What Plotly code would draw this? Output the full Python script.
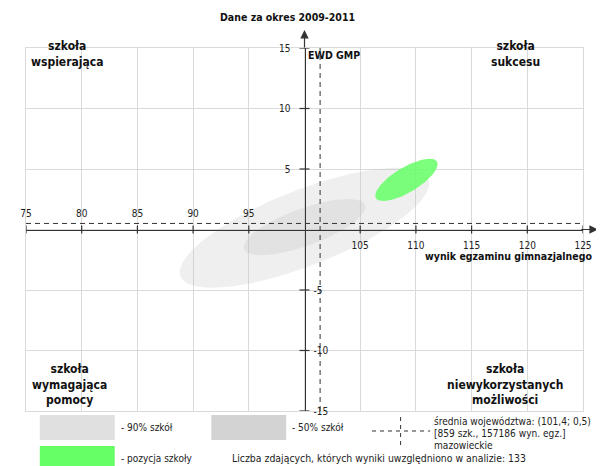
import numpy as np
import plotly.graph_objects as go

# ---------------- data ----------------
title_text = "Dane za okres 2009-2011"
x_title = "wynik egzaminu gimnazjalnego"
y_title = "EWD GMP"

x_range = [75, 125]
y_range = [-15, 15]
x_grid = [75, 80, 85, 90, 95, 100, 105, 110, 115, 120, 125]
y_grid = [-15, -10, -5, 0, 5, 10, 15]
x_ticks_left = [75, 80, 85, 90, 95]
x_ticks_right = [105, 110, 115, 120, 125]
y_ticks_up = [5, 10, 15]
y_ticks_down = [-5, -10, -15]

avg_x = 101.4
avg_y = 0.5

# ellipses: centre, half-width (x), half-height (y), correlation
ellipse_names = ["90% szkół", "50% szkół", "pozycja szkoły"]
ellipse_cx = [100.0, 100.0, 109.15]
ellipse_cy = [0.15, 0.2, 4.1]
ellipse_halfwidth = [11.2, 5.46, 2.8]
ellipse_halfheight = [4.96, 2.32, 1.75]
ellipse_corr = [0.74, 0.71, 0.74]
ellipse_colors = ["rgba(190,190,190,0.25)", "rgba(190,190,190,0.26)", "rgba(102,255,102,0.86)"]

corner_texts = ["szkoła<br>wspierająca", "szkoła<br>sukcesu",
                "szkoła<br>wymagająca<br>pomocy", "szkoła<br>niewykorzystanych<br>możliwości"]

legend_90 = "- 90% szkół"
legend_50 = "- 50% szkół"
legend_school = "- pozycja szkoły"
legend_avg_lines = ["średnia województwa: (101,4; 0,5)",
                    "[859 szk., 157186 wyn. egz.]",
                    "mazowieckie"]
count_text = "Liczba zdających, których wyniki uwzględniono w analizie: 133"

# ---------------- layout helpers ----------------
OFF = 8                      # page body margin in the browser
PAGE_W, PAGE_H = 604, 466
W_PX, H_PX = PAGE_W - OFF, PAGE_H - OFF
# plot area in page pixels: x 22..587, y 48..411
ML, MR = 22 - OFF, W_PX - (587 - OFF)
MT, MB = 48 - OFF, H_PX - (411 - OFF)
PW = W_PX - ML - MR
PH = H_PX - MT - MB


def px(xp):
    """page x pixel -> paper"""
    return (xp - OFF - ML) / PW


def py(yp):
    """page y pixel -> paper"""
    return (H_PX - MB - (yp - OFF)) / PH


FONT = "DejaVu Sans Condensed, DejaVu Sans, sans-serif"
DARK = "#333333"
GRID = "#dadada"

fig = go.Figure()

# ellipses
t = np.linspace(0, 2 * np.pi, 181)
for name, cx, cy, hw, hh, r, col in zip(ellipse_names, ellipse_cx, ellipse_cy,
                                          ellipse_halfwidth, ellipse_halfheight,
                                          ellipse_corr, ellipse_colors):
    ex = cx + hw * np.cos(t)
    ey = cy + hh * (r * np.cos(t) + np.sqrt(1 - r * r) * np.sin(t))
    fig.add_trace(go.Scatter(x=ex, y=ey, mode="lines", fill="toself",
                             fillcolor=col, line=dict(width=0),
                             name=name, showlegend=False, hoverinfo="skip"))

# dummy traces so overlay axes are drawn
for xa, ya in [("x2", "y"), ("x3", "y"), ("x", "y2"), ("x", "y3")]:
    fig.add_trace(go.Scatter(x=[None], y=[None], xaxis=xa, yaxis=ya,
                             showlegend=False, hoverinfo="skip"))

tickfont = dict(family=FONT, size=10, color="#222")

fig.update_layout(
    width=W_PX, height=H_PX,
    margin=dict(l=ML, r=MR, t=MT, b=MB, pad=0),
    paper_bgcolor="white", plot_bgcolor="white",
    showlegend=False,
    xaxis=dict(range=x_range, tickvals=x_grid, showticklabels=False, ticks="",
               showgrid=True, gridcolor=GRID, gridwidth=1, zeroline=False,
               showline=True, mirror=True, linecolor=GRID, linewidth=1,
               fixedrange=True),
    yaxis=dict(range=y_range, tickvals=y_grid, showticklabels=False, ticks="",
               showgrid=True, gridcolor=GRID, gridwidth=1, zeroline=False,
               showline=True, mirror=True, linecolor=GRID, linewidth=1,
               fixedrange=True),
    xaxis2=dict(range=x_range, overlaying="x", anchor="free", position=0.5,
                side="top", tickvals=x_ticks_left,
                ticktext=[str(v) for v in x_ticks_left], ticks="",
                ticklabelstandoff=8, tickfont=tickfont,
                showgrid=False, zeroline=False, showline=True,
                linecolor=DARK, linewidth=1.2),
    xaxis3=dict(range=x_range, overlaying="x", anchor="free", position=0.5,
                side="bottom", tickvals=x_ticks_right,
                ticktext=[str(v) for v in x_ticks_right], ticks="",
                ticklabelstandoff=8, tickfont=tickfont,
                showgrid=False, zeroline=False, showline=False),
    yaxis2=dict(range=y_range, overlaying="y", anchor="free", position=0.5,
                side="left", tickvals=y_ticks_up,
                ticktext=[str(v) for v in y_ticks_up], ticks="",
                ticklabelstandoff=12, tickfont=tickfont,
                showgrid=False, zeroline=False, showline=True,
                linecolor=DARK, linewidth=1.2),
    yaxis3=dict(range=y_range, overlaying="y", anchor="free", position=0.5,
                side="right", tickvals=y_ticks_down,
                ticktext=[str(v) for v in y_ticks_down], ticks="",
                ticklabelstandoff=8, tickfont=tickfont,
                showgrid=False, zeroline=False, showline=False),
)

shapes = []
# crossing tick marks
for v in x_ticks_left + x_ticks_right:
    shapes.append(dict(type="line", xref="x", yref="y", x0=v, x1=v,
                       ysizemode="pixel", yanchor=0, y0=-4, y1=4,
                       line=dict(color=DARK, width=1.2)))
for v in y_ticks_up + y_ticks_down:
    shapes.append(dict(type="line", xref="x", yref="y", y0=v, y1=v,
                       xsizemode="pixel", xanchor=100, x0=-5, x1=5,
                       line=dict(color=DARK, width=1.2)))
# average dashed lines
shapes.append(dict(type="line", xref="x", yref="y", x0=x_range[0], x1=x_range[1],
                   y0=avg_y, y1=avg_y, layer="above",
                   line=dict(color=DARK, width=1, dash="5px,4px")))
shapes.append(dict(type="line", xref="x", yref="y", x0=avg_x, x1=avg_x,
                   y0=y_range[0], y1=y_range[1], layer="above",
                   line=dict(color=DARK, width=1, dash="5px,4px")))
# legend boxes
shapes.append(dict(type="rect", xref="paper", yref="paper", x0=px(36), x1=px(112),
                   y0=py(440), y1=py(415), fillcolor="#e0e0e0", line=dict(width=0)))
shapes.append(dict(type="rect", xref="paper", yref="paper", x0=px(210), x1=px(286),
                   y0=py(440), y1=py(415), fillcolor="#d3d3d3", line=dict(width=0)))
shapes.append(dict(type="rect", xref="paper", yref="paper", x0=px(36), x1=px(112),
                   y0=py(470), y1=py(446), fillcolor="#66ff66", line=dict(width=0)))
shapes.append(dict(type="line", xref="paper", yref="paper", x0=px(373), x1=px(432),
                   y0=py(431), y1=py(431), line=dict(color=DARK, width=1, dash="4px,4px")))
shapes.append(dict(type="line", xref="paper", yref="paper", x0=px(402), x1=px(402),
                   y0=py(417), y1=py(445), line=dict(color=DARK, width=1, dash="4px,4px")))
fig.update_layout(shapes=shapes)

ann = []
# axis arrows
ann.append(dict(xref="paper", yref="y", x=px(602), y=0, ax=-18, ay=0, text="",
                showarrow=True, arrowhead=2, arrowsize=1.4, arrowwidth=1.2,
                arrowcolor=DARK))
ann.append(dict(xref="x", yref="paper", x=100, y=py(30), ax=0, ay=19, text="",
                showarrow=True, arrowhead=2, arrowsize=1.4, arrowwidth=1.2,
                arrowcolor=DARK))

bold = dict(family=FONT, size=10.5, color="#111", weight="bold")
ann.append(dict(xref="paper", yref="paper", x=px(287), y=py(17), text=title_text,
                showarrow=False, font=bold, xanchor="center", yanchor="middle"))
ann.append(dict(xref="paper", yref="paper", x=px(306), y=py(55), text=y_title,
                showarrow=False, font=bold, xanchor="left", yanchor="middle"))
ann.append(dict(xref="paper", yref="paper", x=px(598), y=py(256), text=x_title,
                showarrow=False, font=bold, xanchor="right", yanchor="middle"))

corner_font = dict(family=FONT, size=12, color="#111", weight="bold")
corner_pos = [(64, 54), (519, 54), (66, 384), (508, 384)]
for txt, (cxp, cyp) in zip(corner_texts, corner_pos):
    ann.append(dict(xref="paper", yref="paper", x=px(cxp), y=py(cyp), text=txt,
                    showarrow=False, font=corner_font, xanchor="center",
                    yanchor="middle", align="center"))

legfont = dict(family=FONT, size=10, color="#222")
ann.append(dict(xref="paper", yref="paper", x=px(116), y=py(428), text=legend_90,
                showarrow=False, font=legfont, xanchor="left", yanchor="middle"))
ann.append(dict(xref="paper", yref="paper", x=px(290), y=py(428), text=legend_50,
                showarrow=False, font=legfont, xanchor="left", yanchor="middle"))
ann.append(dict(xref="paper", yref="paper", x=px(116), y=py(458), text=legend_school,
                showarrow=False, font=legfont, xanchor="left", yanchor="middle"))
ann.append(dict(xref="paper", yref="paper", x=px(229), y=py(458), text=count_text,
                showarrow=False, font=dict(family=FONT, size=10.4, color="#222"),
                xanchor="left", yanchor="middle"))
avgfont = dict(family=FONT, size=10.1, color="#222")
for line, ly in zip(legend_avg_lines, [421, 433, 445]):
    ann.append(dict(xref="paper", yref="paper", x=px(434), y=py(ly), text=line,
                    showarrow=False, font=avgfont, xanchor="left", yanchor="middle"))
fig.update_layout(annotations=ann)

fig.write_html("out.html")
